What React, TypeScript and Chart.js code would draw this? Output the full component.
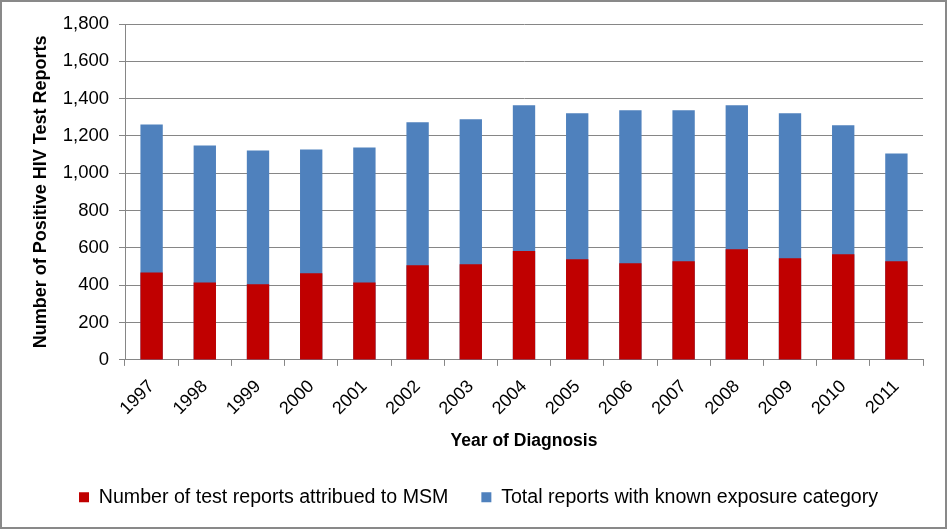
import React, { useEffect, useRef } from "react";
import { Chart, registerables } from "chart.js";

Chart.register(...registerables);

const years = ["1997", "1998", "1999", "2000", "2001", "2002", "2003", "2004", "2005", "2006", "2007", "2008", "2009", "2010", "2011"];
const msmReports = [469, 415, 405, 464, 415, 507, 512, 583, 539, 518, 529, 593, 545, 566, 529];
const totalReports = [1262, 1149, 1122, 1128, 1138, 1273, 1289, 1365, 1322, 1338, 1338, 1365, 1322, 1257, 1106];
const yTickValues = [0, 200, 400, 600, 800, 1000, 1200, 1400, 1600, 1800];

const FONT = "'Liberation Sans', Arial, sans-serif";
const GRID = "#868686";

const borderPlugin = {
  id: "outerBorder",
  afterLayout(chart: any) {
    const lg = chart.legend;
    if (lg) {
      lg.left += 17;
      lg.right += 17;
    }
  },
  afterDraw(chart: any) {
    const ctx = chart.ctx;
    ctx.save();
    ctx.strokeStyle = "#898989";
    ctx.lineWidth = 2;
    ctx.strokeRect(1, 1, chart.width - 2, chart.height - 2);
    ctx.restore();
  },
};

export default function App() {
  const ref = useRef<HTMLCanvasElement | null>(null);

  useEffect(() => {
    document.body.style.margin = "0";
    if (!ref.current) return;
    const chart = new Chart(ref.current, {
      type: "bar",
      data: {
        labels: years,
        datasets: [
          {
            label: "Number of test reports attribued to MSM",
            data: msmReports,
            backgroundColor: "#C00000",
            barPercentage: 0.42,
            categoryPercentage: 1,
          },
          {
            label: "Total reports with known exposure category",
            data: totalReports,
            backgroundColor: "#4F81BD",
            barPercentage: 0.42,
            categoryPercentage: 1,
          },
        ],
      },
      options: {
        animation: false,
        responsive: false,
        devicePixelRatio: 1,
        layout: { padding: { left: 0, right: 24, top: 24, bottom: 12 } },
        plugins: {
          tooltip: { enabled: false },
          legend: {
            position: "bottom",
            labels: {
              boxWidth: 10,
              boxHeight: 10,
              padding: 33,
              color: "#000",
              font: { family: FONT, size: 19.6 },
            },
          },
        },
        scales: {
          x: {
            stacked: true,
            grid: { drawOnChartArea: false, drawTicks: true, tickLength: 6, color: GRID },
            border: { color: GRID, width: 1 },
            ticks: { color: "#000", font: { family: FONT, size: 18 }, minRotation: 45, maxRotation: 45, padding: 10 },
            title: {
              display: true,
              text: "Year of Diagnosis",
              color: "#000",
              font: { family: FONT, size: 17.5, weight: "bold" },
              padding: { top: 0, bottom: 3 },
            },
            afterFit(scale: any) {
              scale.height = 94.5;
            },
          },
          y: {
            stacked: false,
            min: 0,
            max: 1800,
            afterBuildTicks(scale: any) {
              scale.ticks = yTickValues.map((v) => ({ value: v }));
            },
            ticks: {
              color: "#000",
              font: { family: FONT, size: 18.5 },
              padding: 10,
              callback: (v: any) => Number(v).toLocaleString("en-US"),
            },
            grid: { color: GRID, tickLength: 6 },
            border: { color: GRID, width: 1 },
            title: {
              display: true,
              text: "Number of Positive HIV Test Reports",
              color: "#000",
              font: { family: FONT, size: 18, weight: "bold" },
              padding: { top: 30, bottom: 0 },
            },
            afterFit(scale: any) {
              scale.width = 125;
            },
          },
        },
      },
      plugins: [borderPlugin],
    });
    return () => chart.destroy();
  }, []);

  return (
    <div style={{ position: "absolute", left: 0, top: 0, width: 947, height: 529 }}>
      <canvas ref={ref} width={947} height={529} style={{ display: "block" }} />
    </div>
  );
}
